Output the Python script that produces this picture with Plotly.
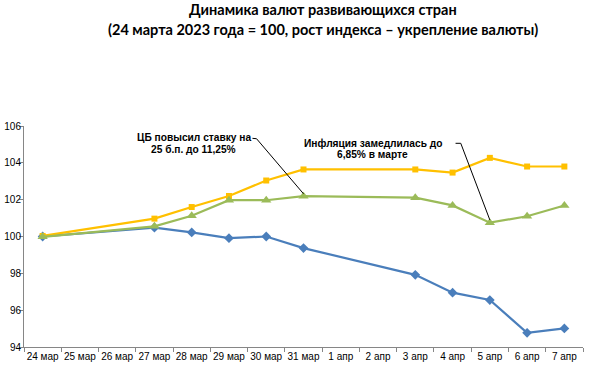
import plotly.graph_objects as go

categories = ["24 мар", "25 мар", "26 мар", "27 мар", "28 мар", "29 мар", "30 мар",
              "31 мар", "1 апр", "2 апр", "3 апр", "4 апр", "5 апр", "6 апр", "7 апр"]
series_blue = [100.0, None, None, 100.48, 100.22, 99.91, 100.0, 99.37, None, None,
               97.92, 96.95, 96.55, 94.77, 95.01]
series_yellow = [100.03, None, None, 100.97, 101.6, 102.2, 103.04, 103.64, None, None,
                 103.64, 103.47, 104.27, 103.8, 103.8]
series_green = [99.98, None, None, 100.55, 101.13, 101.97, 101.97, 102.19, None, None,
                102.11, 101.69, 100.75, 101.1, 101.68]
y_ticks = [94, 96, 98, 100, 102, 104, 106]
title_lines = ["Динамика валют развивающихся стран",
               "(24 марта 2023 года = 100, рост индекса – укрепление валюты)"]
note1_lines = ["ЦБ повысил ставку на", "25 б.п. до 11,25%"]
note2_lines = ["Инфляция замедлилась до", "6,85% в марте"]

FONT = "Liberation Sans, Arial, sans-serif"

fig = go.Figure()
fig.add_trace(go.Scatter(x=categories, y=series_blue, mode="lines+markers", connectgaps=True,
                         line=dict(color="#4A7EBB", width=2.2),
                         marker=dict(symbol="diamond", size=7.5, color="#4A7EBB")))
fig.add_trace(go.Scatter(x=categories, y=series_yellow, mode="lines+markers", connectgaps=True,
                         line=dict(color="#FFC000", width=2.2),
                         marker=dict(symbol="square", size=6, color="#FFC000")))
fig.add_trace(go.Scatter(x=categories, y=series_green, mode="lines+markers", connectgaps=True,
                         line=dict(color="#9BBB59", width=2.2),
                         marker=dict(symbol="triangle-up", size=9, color="#9BBB59")))

# leader lines
fig.add_shape(type="path", xref="x", yref="y",
              path="M 5.63,105.33 L 5.74,105.31 L 7.0,102.32",
              line=dict(color="black", width=1))
fig.add_shape(type="path", xref="x", yref="y",
              path="M 11.08,105.06 L 11.22,105.06 L 12.0,100.9",
              line=dict(color="black", width=1))

anns = []
for i, t in enumerate(note1_lines):
    anns.append(dict(x=4.05, y=105.38 - i * 0.63, xref="x", yref="y", text=t, showarrow=False,
                     font=dict(family=FONT, size=10.2, color="black", weight="bold"),
                     xanchor="center", yanchor="middle"))
for i, t in enumerate(note2_lines):
    anns.append(dict(x=8.86, y=105.07 - i * 0.63, xref="x", yref="y", text=t, showarrow=False,
                     font=dict(family=FONT, size=10.2, color="black", weight="bold"),
                     xanchor="center", yanchor="middle"))
# title lines: pixel y 10 and 30 ; plot area 126..347
for i, t in enumerate(title_lines):
    py = 9 + 20 * i
    anns.append(dict(x=(323 - 24) / 559, y=(347 - py) / 221, xref="paper", yref="paper", text=t,
                     showarrow=False, xanchor="center", yanchor="middle",
                     font=dict(family="Lato, " + FONT, size=14.5, color="black", weight="bold")))
fig.update_layout(annotations=anns)

fig.update_layout(
    width=591, height=370,
    margin=dict(l=24, r=8, t=126, b=23, autoexpand=False),
    paper_bgcolor="white", plot_bgcolor="white",
    showlegend=False,
    font=dict(family=FONT, size=10, color="black"),
    xaxis=dict(type="category", range=[-0.5, 14.5], showgrid=False, showline=True,
               linecolor="#868686", linewidth=1, ticks="outside", tickson="boundaries",
               ticklen=4, tickcolor="#868686", tickfont=dict(size=10, color="black"),
               tickangle=0, automargin=False, zeroline=False),
    yaxis=dict(range=[94, 106], tickvals=y_ticks, showgrid=False, showline=True,
               linecolor="#868686", linewidth=1, ticks="outside", ticklen=4,
               tickcolor="#868686", tickfont=dict(size=10, color="black"), zeroline=False,
               automargin=False, ticklabelstandoff=-4),
)

fig.write_html("out.html", config={"displayModeBar": False},
               post_script="document.body.style.margin='0';document.body.style.padding='0';")
